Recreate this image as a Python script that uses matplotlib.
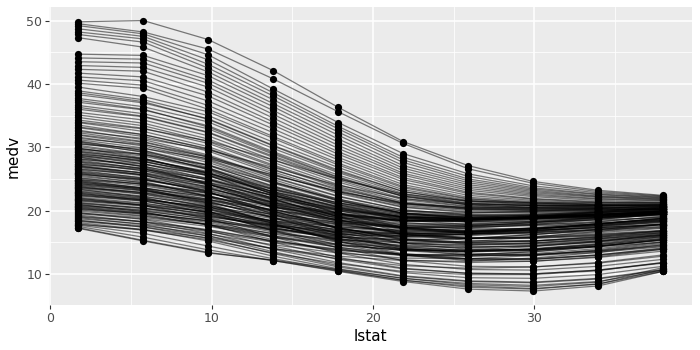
import matplotlib
matplotlib.use("Agg")
import matplotlib.pyplot as plt
import numpy as np
from matplotlib.ticker import MultipleLocator

# lstat grid used for the ICE curves
lstat_grid = [1.73, 5.76, 9.78, 13.81, 17.84, 21.86, 25.89, 29.92, 33.94, 37.97]

ice_top = [
    [49.8, 50.0, 47.0, 42.1, 36.3, 30.9, 27.1, 24.6, 23.2, 22.4],
    [49.5, 48.2, 45.5, 40.8, 35.6, 30.6, 26.6, 24.3, 23.0, 22.3],
    [49.2, 47.9, 44.6, 39.2, 33.9, 29.0, 25.8, 23.9, 22.8, 22.2],
    [48.7, 47.5, 43.8, 38.6, 33.3, 28.4, 25.4, 23.6, 22.6, 22.1],
    [48.2, 47.1, 43.1, 38.1, 32.9, 28.0, 25.0, 23.4, 22.5, 22.0],
    [47.8, 46.6, 42.5, 37.5, 32.4, 27.6, 24.7, 23.2, 22.3, 21.9],
    [47.3, 45.8, 41.9, 36.9, 31.9, 27.1, 24.4, 23.0, 22.2, 21.8],
]

ice_high = [
    [44.7, 44.5, 41.3, 36.4, 31.3, 26.7, 24.1, 22.8, 22.1, 21.7],
    [44.1, 43.9, 40.6, 35.8, 30.8, 26.3, 23.8, 22.6, 21.9, 21.6],
    [43.5, 43.3, 40.1, 35.2, 30.3, 25.9, 23.5, 22.4, 21.8, 21.5],
    [42.9, 42.6, 39.5, 34.6, 29.8, 25.6, 23.2, 22.2, 21.6, 21.3],
    [42.3, 42.0, 38.7, 34.0, 29.3, 25.2, 22.9, 21.9, 21.4, 21.2],
    [41.7, 41.1, 38.1, 33.5, 28.9, 24.9, 22.7, 21.8, 21.3, 21.1],
    [41.1, 40.5, 37.3, 32.9, 28.4, 24.5, 22.4, 21.6, 21.2, 21.0],
    [40.6, 39.8, 36.6, 32.3, 28.0, 24.1, 22.1, 21.4, 21.0, 20.8],
    [40.1, 39.3, 36.0, 31.7, 27.5, 23.8, 21.9, 21.2, 20.9, 20.7],
    [39.5, 38.0, 35.6, 31.4, 27.2, 23.6, 21.8, 21.2, 20.9, 20.8],
    [38.9, 37.5, 35.0, 30.8, 26.8, 23.3, 21.6, 21.0, 20.8, 20.7],
    [38.6, 37.2, 34.4, 30.2, 26.2, 23.0, 21.5, 21.1, 21.0, 21.0],
    [38.3, 37.0, 34.5, 30.3, 26.4, 23.0, 21.4, 20.9, 20.7, 20.6],
    [37.7, 36.4, 34.0, 29.8, 26.0, 22.7, 21.2, 20.8, 20.6, 20.5],
    [37.4, 36.0, 33.2, 29.1, 25.3, 22.3, 20.9, 20.5, 20.5, 20.6],
    [37.1, 35.9, 33.4, 29.3, 25.6, 22.5, 21.1, 20.7, 20.5, 20.4],
    [36.6, 35.3, 32.9, 28.9, 25.2, 22.2, 20.9, 20.5, 20.4, 20.3],
    [36.3, 34.9, 32.4, 28.6, 25.0, 22.3, 21.1, 20.8, 20.8, 20.9],
    [36.0, 34.8, 32.3, 28.4, 24.8, 21.9, 20.7, 20.4, 20.3, 20.3],
    [35.5, 34.3, 31.8, 28.0, 24.5, 21.7, 20.6, 20.3, 20.3, 20.2],
    [35.1, 33.8, 31.3, 27.6, 24.1, 21.4, 20.4, 20.2, 20.2, 20.2],
    [34.7, 33.4, 30.9, 27.2, 23.8, 21.2, 20.3, 20.1, 20.1, 20.1],
]

ice_upper_mid = [
    [34.3, 33.0, 30.6, 27.0, 23.6, 21.1, 20.2, 20.1, 20.1, 20.2],
    [34.0, 32.9, 31.0, 28.0, 25.0, 22.6, 21.5, 21.3, 21.2, 21.3],
    [33.9, 32.5, 30.1, 26.5, 23.2, 20.8, 20.0, 19.9, 20.0, 20.1],
    [33.5, 32.0, 29.7, 26.1, 22.9, 20.6, 19.8, 19.8, 19.9, 20.0],
    [33.2, 32.0, 29.8, 26.4, 23.4, 21.2, 20.4, 20.3, 20.4, 20.6],
    [33.1, 31.7, 29.4, 25.8, 22.7, 20.5, 19.7, 19.7, 19.8, 19.9],
    [32.7, 31.2, 28.8, 25.3, 22.3, 20.1, 19.3, 19.3, 19.5, 19.7],
    [32.5, 31.4, 29.6, 26.8, 24.0, 21.9, 21.0, 20.8, 20.8, 20.9],
    [32.3, 30.9, 28.6, 25.2, 22.2, 20.1, 19.4, 19.5, 19.7, 19.9],
    [32.0, 30.8, 28.4, 24.9, 21.8, 19.6, 18.8, 18.8, 19.1, 19.5],
    [31.9, 30.5, 28.1, 24.6, 21.6, 19.5, 18.7, 18.7, 18.9, 19.2],
    [31.6, 30.2, 27.9, 24.5, 21.6, 19.6, 18.9, 18.9, 19.1, 19.4],
    [31.4, 30.4, 28.5, 25.6, 23.0, 21.1, 20.5, 20.5, 20.7, 21.0],
    [31.2, 29.9, 27.6, 24.3, 21.5, 19.6, 19.0, 19.1, 19.3, 19.6],
    [31.0, 29.5, 26.8, 22.9, 19.6, 17.4, 16.6, 16.6, 17.0, 17.5],
    [30.9, 29.5, 27.2, 23.8, 20.9, 18.9, 18.2, 18.2, 18.5, 18.9],
    [30.8, 29.2, 26.5, 22.5, 19.0, 16.6, 15.7, 15.7, 16.1, 16.8],
    [30.6, 29.3, 27.1, 23.9, 21.2, 19.4, 18.9, 19.0, 19.3, 19.6],
    [30.5, 29.8, 28.2, 25.6, 23.0, 21.0, 20.2, 20.0, 20.1, 20.3],
    [30.3, 28.9, 26.6, 23.3, 20.5, 18.5, 17.8, 17.8, 18.1, 18.5],
    [30.1, 28.8, 26.7, 23.7, 21.2, 19.6, 19.2, 19.4, 19.7, 20.0],
]

ice_mid = [
    [29.9, 28.3, 25.6, 21.9, 18.6, 16.2, 15.3, 15.2, 15.6, 16.2],
    [29.8, 28.6, 26.5, 23.5, 21.0, 19.4, 19.0, 19.2, 19.5, 19.9],
    [29.7, 28.9, 27.2, 24.4, 21.8, 19.9, 19.2, 19.2, 19.4, 19.8],
    [29.6, 28.2, 25.9, 22.7, 20.0, 18.1, 17.5, 17.6, 17.9, 18.4],
    [29.4, 28.1, 26.0, 23.0, 20.6, 19.0, 18.6, 18.8, 19.1, 19.5],
    [29.3, 28.2, 26.0, 22.6, 19.5, 17.3, 16.4, 16.3, 16.7, 17.3],
    [29.2, 27.8, 25.5, 22.3, 19.6, 17.7, 17.1, 17.2, 17.6, 18.1],
    [29.0, 27.8, 25.8, 22.9, 20.5, 19.0, 18.7, 18.9, 19.3, 19.7],
    [28.9, 28.0, 26.2, 23.4, 20.9, 19.2, 18.6, 18.7, 19.0, 19.4],
    [28.8, 27.4, 25.0, 21.8, 19.0, 17.1, 16.4, 16.5, 16.9, 17.4],
    [28.7, 27.7, 25.9, 23.3, 21.2, 19.9, 19.6, 19.9, 20.3, 20.8],
    [28.6, 27.4, 25.5, 22.7, 20.4, 19.0, 18.7, 19.0, 19.3, 19.7],
    [28.5, 26.9, 24.2, 20.4, 17.1, 14.8, 13.9, 13.8, 14.3, 15.0],
    [28.4, 27.0, 24.8, 21.7, 19.1, 17.3, 16.8, 16.9, 17.3, 17.8],
    [28.2, 27.0, 25.1, 22.4, 20.2, 18.8, 18.5, 18.8, 19.2, 19.6],
    [28.1, 27.3, 25.6, 23.0, 20.7, 19.2, 18.8, 19.0, 19.4, 19.9],
    [28.0, 26.6, 24.2, 21.0, 18.2, 16.3, 15.6, 15.7, 16.2, 16.8],
    [27.8, 26.7, 24.9, 22.3, 20.2, 18.9, 18.7, 19.0, 19.4, 19.8],
    [27.7, 26.6, 24.4, 21.2, 18.4, 16.4, 15.6, 15.6, 16.0, 16.7],
    [27.6, 26.3, 24.2, 21.3, 18.8, 17.2, 16.7, 16.9, 17.3, 17.8],
    [27.4, 26.3, 24.5, 22.0, 20.0, 18.8, 18.6, 18.9, 19.3, 19.7],
    [27.3, 26.5, 24.9, 22.4, 20.3, 19.0, 18.6, 18.9, 19.3, 19.8],
    [27.2, 25.9, 23.7, 20.6, 18.0, 16.2, 15.6, 15.8, 16.3, 16.9],
    [27.1, 25.6, 23.0, 19.4, 16.3, 14.1, 13.2, 13.1, 13.6, 14.4],
    [27.0, 25.9, 24.1, 21.6, 19.6, 18.4, 18.2, 18.5, 18.9, 19.4],
    [26.9, 26.0, 24.4, 22.0, 20.1, 19.0, 18.9, 19.3, 19.9, 20.5],
    [26.8, 25.6, 23.6, 20.8, 18.5, 17.0, 16.6, 16.8, 17.3, 17.9],
    [26.6, 25.5, 23.8, 21.4, 19.5, 18.4, 18.3, 18.6, 19.1, 19.6],
    [26.5, 25.7, 24.1, 21.8, 19.9, 18.7, 18.5, 18.8, 19.3, 19.8],
    [26.4, 25.1, 22.9, 19.9, 17.3, 15.5, 14.8, 14.9, 15.4, 16.1],
    [26.2, 25.2, 23.5, 21.2, 19.4, 18.4, 18.3, 18.7, 19.2, 19.7],
    [26.1, 25.0, 22.9, 19.9, 17.3, 15.4, 14.7, 14.7, 15.2, 16.0],
    [26.0, 24.9, 23.1, 20.6, 18.5, 17.2, 16.9, 17.2, 17.7, 18.3],
    [25.9, 24.6, 22.2, 18.9, 16.0, 13.9, 13.0, 12.9, 13.4, 14.3],
    [25.8, 24.8, 23.2, 21.0, 19.3, 18.4, 18.4, 18.8, 19.3, 19.9],
    [25.7, 24.9, 23.4, 21.3, 19.6, 18.6, 18.5, 18.9, 19.4, 20.0],
    [25.6, 24.4, 22.4, 19.6, 17.2, 15.6, 15.0, 15.2, 15.8, 16.5],
    [25.4, 24.4, 22.8, 20.6, 18.9, 18.0, 17.9, 18.3, 18.9, 19.5],
    [25.2, 24.1, 22.3, 19.8, 17.8, 16.5, 16.2, 16.5, 17.1, 17.8],
    [25.1, 24.2, 22.7, 20.7, 19.2, 18.4, 18.5, 19.0, 19.6, 20.2],
]

ice_lower_mid = [
    [24.9, 23.9, 22.3, 20.1, 18.4, 17.4, 17.3, 17.7, 18.3, 19.0],
    [24.9, 24.2, 22.8, 20.9, 19.4, 18.6, 18.6, 19.1, 19.7, 20.3],
    [24.8, 23.5, 21.2, 18.0, 15.2, 13.2, 12.4, 12.3, 12.9, 13.9],
    [24.7, 23.6, 21.8, 19.3, 17.2, 15.9, 15.6, 15.9, 16.5, 17.2],
    [24.6, 23.3, 21.0, 17.9, 15.1, 13.0, 12.1, 12.0, 12.6, 13.6],
    [24.5, 23.6, 22.1, 20.1, 18.6, 17.8, 17.8, 18.3, 18.9, 19.5],
    [24.4, 23.4, 21.5, 18.8, 16.5, 14.9, 14.3, 14.4, 15.0, 15.9],
    [24.3, 23.2, 21.4, 18.9, 16.8, 15.4, 15.0, 15.2, 15.8, 16.6],
    [24.2, 23.5, 22.2, 20.5, 19.1, 18.4, 18.5, 19.0, 19.7, 20.4],
    [24.1, 23.2, 21.8, 19.9, 18.4, 17.6, 17.6, 18.1, 18.7, 19.4],
    [24.0, 23.1, 21.6, 19.6, 18.1, 17.3, 17.4, 17.9, 18.6, 19.4],
    [23.9, 22.8, 20.9, 18.2, 15.9, 14.3, 13.7, 13.8, 14.4, 15.3],
    [23.8, 22.6, 20.6, 17.8, 15.4, 13.7, 13.0, 13.0, 13.6, 14.6],
    [23.7, 22.8, 21.3, 19.3, 17.7, 16.8, 16.8, 17.2, 17.9, 18.7],
    [23.6, 22.9, 21.7, 20.1, 18.9, 18.3, 18.5, 19.1, 19.8, 20.6],
    [23.5, 22.6, 21.2, 19.4, 18.1, 17.5, 17.6, 18.1, 18.8, 19.5],
    [23.4, 22.1, 19.9, 16.8, 14.1, 12.1, 11.2, 11.1, 11.7, 12.8],
    [23.3, 22.3, 20.6, 18.3, 16.4, 15.2, 14.9, 15.2, 15.9, 16.8],
    [23.1, 22.2, 20.8, 18.9, 17.5, 16.7, 16.7, 17.2, 17.9, 18.7],
    [23.0, 22.0, 20.2, 17.7, 15.6, 14.2, 13.7, 13.9, 14.6, 15.6],
    [22.9, 21.9, 20.3, 18.0, 16.1, 14.9, 14.6, 14.9, 15.6, 16.5],
    [22.8, 21.6, 19.6, 16.9, 14.6, 13.0, 12.4, 12.4, 13.0, 14.0],
    [22.7, 21.8, 20.5, 18.7, 17.3, 16.6, 16.6, 17.1, 17.8, 18.6],
    [22.6, 21.7, 20.3, 18.4, 17.0, 16.3, 16.5, 17.1, 17.9, 18.8],
    [22.5, 21.5, 19.8, 17.4, 15.4, 14.0, 13.5, 13.7, 14.4, 15.4],
    [22.4, 21.7, 20.6, 19.1, 17.9, 17.3, 17.5, 18.1, 18.9, 19.8],
    [22.3, 21.5, 20.1, 18.3, 17.0, 16.4, 16.5, 17.0, 17.7, 18.5],
    [22.1, 21.2, 19.7, 17.6, 15.9, 14.8, 14.5, 14.8, 15.5, 16.4],
    [22.0, 20.8, 18.7, 15.8, 13.3, 11.5, 10.7, 10.6, 11.2, 12.3],
    [21.9, 21.1, 19.8, 18.1, 16.8, 16.2, 16.3, 16.8, 17.6, 18.4],
    [21.8, 20.9, 19.4, 17.3, 15.6, 14.5, 14.2, 14.5, 15.2, 16.3],
    [21.7, 20.8, 19.3, 17.2, 15.5, 14.4, 14.1, 14.4, 15.1, 16.1],
    [21.6, 20.9, 19.8, 18.4, 17.4, 16.9, 17.2, 17.8, 18.6, 19.5],
    [21.5, 20.7, 19.5, 17.8, 16.6, 16.0, 16.2, 16.7, 17.5, 18.3],
    [21.3, 20.4, 18.9, 16.8, 15.1, 13.9, 13.5, 13.7, 14.4, 15.4],
    [21.2, 20.4, 19.2, 17.6, 16.5, 16.0, 16.3, 17.0, 17.9, 18.8],
    [21.1, 20.3, 19.1, 17.5, 16.3, 15.8, 16.0, 16.6, 17.4, 18.2],
    [21.0, 19.8, 17.8, 15.0, 12.6, 10.9, 10.1, 10.0, 10.6, 11.7],
    [20.9, 20.0, 18.6, 16.6, 15.0, 13.9, 13.6, 13.9, 14.6, 15.6],
    [20.8, 20.1, 19.0, 17.7, 16.7, 16.3, 16.6, 17.3, 18.2, 19.1],
    [20.7, 19.9, 18.7, 17.1, 15.9, 15.4, 15.6, 16.2, 17.0, 17.9],
    [20.6, 19.7, 18.3, 16.3, 14.7, 13.7, 13.5, 13.9, 14.7, 15.8],
    [20.5, 19.6, 18.1, 16.0, 14.2, 12.9, 12.3, 12.3, 13.0, 14.1],
    [20.4, 19.4, 17.7, 15.4, 13.5, 12.2, 11.8, 12.0, 12.7, 13.9],
    [20.3, 19.6, 18.4, 16.9, 15.8, 15.3, 15.6, 16.2, 17.0, 17.8],
    [20.2, 19.5, 18.4, 17.1, 16.2, 15.9, 16.3, 17.0, 17.9, 18.8],
    [20.1, 19.2, 17.8, 15.8, 14.2, 13.1, 12.8, 13.0, 13.7, 14.8],
]

ice_bottom = [
    [19.9, 19.1, 17.8, 16.0, 14.6, 13.7, 13.6, 14.0, 14.8, 15.9],
    [19.7, 18.6, 16.8, 14.4, 12.3, 10.8, 10.1, 10.0, 10.6, 11.8],
    [19.6, 18.9, 17.8, 16.4, 15.4, 14.9, 15.1, 15.8, 16.7, 17.8],
    [19.5, 18.7, 17.5, 15.8, 14.5, 13.8, 13.8, 14.3, 15.1, 16.2],
    [19.3, 18.2, 16.4, 13.9, 11.8, 10.2, 9.4, 9.3, 9.9, 11.2],
    [19.1, 18.3, 17.0, 15.2, 13.8, 12.9, 12.8, 13.2, 14.0, 15.1],
    [19.0, 18.2, 16.9, 15.2, 13.9, 13.1, 13.0, 13.5, 14.3, 15.5],
    [18.9, 17.8, 16.0, 13.5, 11.3, 9.7, 8.9, 8.7, 9.3, 10.7],
    [18.7, 17.9, 16.7, 15.0, 13.7, 13.0, 13.0, 13.5, 14.3, 15.4],
    [18.5, 17.4, 15.6, 13.2, 11.1, 9.6, 8.8, 8.6, 9.2, 10.6],
    [18.4, 17.6, 16.3, 14.6, 13.3, 12.5, 12.4, 12.9, 13.8, 15.0],
    [18.3, 17.4, 16.0, 14.0, 12.4, 11.3, 10.9, 11.1, 11.8, 13.0],
    [18.1, 17.0, 15.2, 12.8, 10.8, 9.3, 8.5, 8.2, 8.8, 10.5],
    [17.9, 16.9, 15.4, 13.3, 11.6, 10.4, 9.9, 9.9, 10.5, 11.8],
    [17.8, 17.0, 15.7, 14.0, 12.8, 12.1, 12.0, 12.5, 13.4, 14.6],
    [17.7, 16.4, 14.4, 12.4, 10.6, 9.0, 8.1, 7.7, 8.4, 10.4],
    [17.5, 15.8, 13.8, 12.1, 10.4, 8.8, 7.6, 7.3, 8.1, 10.4],
    [17.3, 15.3, 13.4, 12.1, 10.5, 9.0, 7.9, 7.6, 8.4, 10.7],
    [17.2, 15.2, 13.3, 12.2, 10.7, 9.3, 8.3, 8.0, 8.7, 11.0],
]

curves = ice_top + ice_high + ice_upper_mid + ice_mid + ice_lower_mid + ice_bottom

# ggplot2 grey theme look
fig = plt.figure(figsize=(7, 3.5), dpi=100)
ax = fig.add_axes([0.07, 0.128, 0.919, 0.852])
ax.set_facecolor('#EBEBEB')

for row in curves:
    ax.plot(lstat_grid, row, color='black', alpha=0.5, linewidth=0.9, zorder=2)

xs = np.repeat([lstat_grid], len(curves), axis=0).ravel()
ys = np.array(curves).ravel()
ax.scatter(xs, ys, s=27, color='black', linewidths=0, zorder=3)

ax.set_xlim(-0.08, 39.78)
ax.set_ylim(5.06, 52.14)
ax.xaxis.set_major_locator(MultipleLocator(10))
ax.xaxis.set_minor_locator(MultipleLocator(5))
ax.yaxis.set_major_locator(MultipleLocator(10))
ax.yaxis.set_minor_locator(MultipleLocator(5))
ax.grid(which='major', color='white', linewidth=1.1, zorder=0)
ax.grid(which='minor', color='white', linewidth=0.55, zorder=0)
ax.set_axisbelow(True)
for s in ax.spines.values():
    s.set_visible(False)
ax.tick_params(which='major', length=3, width=0.8, color='#333333',
               labelcolor='#4D4D4D', labelsize=9, pad=2)
ax.tick_params(which='minor', length=0)

ax.set_xlabel('lstat', fontsize=11, labelpad=3)
ax.set_ylabel('medv', fontsize=11, labelpad=4)

fig.savefig('out.png', dpi=100, facecolor='white')
